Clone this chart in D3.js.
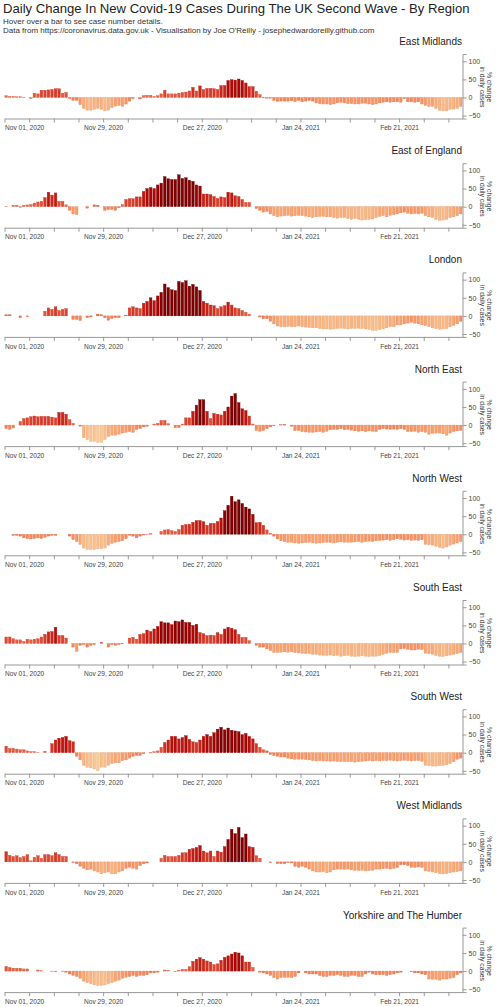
<!DOCTYPE html>
<html>
<head>
<meta charset="utf-8">
<script src="https://cdn.jsdelivr.net/npm/d3@7"></script>
<style>
  body { margin: 0; background: #fff; font-family: "Liberation Sans", Arial, Helvetica, sans-serif; }
  .axis path, .axis line { stroke: #999; }
  .axis text { fill: #444; }
</style>
</head>
<body>
<svg id="chart"></svg>
<script>
// daily % change in new cases, one value per day from Nov 01, 2020
const startDay = '2020-11-01';
const regions = ['East Midlands', 'East of England', 'London', 'North East', 'North West',
  'South East', 'South West', 'West Midlands', 'Yorkshire and The Humber'];

const eastMidlands = [5, 3, 3, 2, 2, 1, 0, -3, 12, 10, 20, 20, 21, 22, 24, 24, 12, 14, -3, -8, -8,
  -20, -30, -35, -35, -33, -30, -33, -37, -35, -28, -24, -22, -25, -18, -10, -3, 0, -4, 5, 6, 6,
  3, 5, 10, 20, 10, 10, 10, 12, 14, 15, 18, 28, 18, 32, 22, 25, 25, 24, 22, 33, 33,
  47, 49, 48, 51, 47, 40, 30, 30, 17, 8, -1, -2, -2, -8, -11, -10, -10, -10, -9, -11, -8,
  -12, -10, -8, -10, -15, -17, -18, -18, -20, -18, -15, -13, -15, -17, -17, -18, -18, -16, -16, -18, -20,
  -18, -15, -13, -12, -13, -12, -12, -13, -3, -12, -12, -13, -12, -18, -22, -25, -25, -30, -35, -37, -37,
  -33, -32, -30, -25];
const eastOfEngland = [1, 0, 4, 4, -2, 4, 5, 6, 10, 13, 15, 25, 40, 32, 38, 15, 15, 5, -10, -20, -22,
  0, 0, -4, 0, 5, 4, 0, -10, -8, -8, -10, -3, 6, 20, 22, 22, 27, 27, 42, 50, 53,
  50, 60, 65, 83, 77, 75, 75, 88, 78, 80, 73, 70, 60, 57, 35, 35, 33, 28, 23, 27, 25,
  40, 38, 30, 28, 20, 12, 12, 0, -5, -10, -15, -13, -20, -25, -28, -26, -25, -24, -26, -25, -24,
  -25, -26, -28, -30, -28, -27, -27, -28, -28, -30, -32, -30, -30, -33, -35, -33, -35, -37, -36, -35, -34,
  -30, -27, -25, -28, -24, -22, -20, -17, -15, -18, -20, -19, -20, -18, -25, -28, -30, -35, -38, -37, -35,
  -30, -28, -25, -20];
const london = [3, 3, 0, 0, -5, 0, -2, 0, 0, 0, 0, 13, 22, 18, 25, 15, 18, 20, 0, -10, -10,
  -13, 0, -5, -3, 0, 5, 3, -5, -12, -7, -5, -5, 0, 2, 22, 25, 22, 20, 35, 40, 50,
  42, 55, 65, 88, 78, 72, 70, 95, 92, 97, 82, 87, 80, 70, 40, 35, 30, 28, 20, 25, 28,
  38, 30, 22, 20, 15, 10, 5, 0, 0, -3, -8, -8, -15, -22, -28, -30, -30, -29, -30, -30, -28,
  -30, -31, -32, -33, -33, -35, -36, -36, -37, -36, -35, -34, -35, -36, -35, -35, -34, -35, -36, -38, -40,
  -40, -38, -36, -33, -30, -30, -25, -25, -22, -20, -18, -20, -22, -25, -27, -30, -33, -35, -37, -36, -35,
  -30, -26, -22, -15];
const northEast = [-10, -12, -8, 0, 10, 18, 20, 23, 25, 23, 24, 24, 24, 22, 20, 35, 35, 30, 15, 5, 0,
  -3, -35, -40, -45, -45, -48, -48, -40, -32, -28, -28, -25, -22, -20, -18, -20, -12, -10, -5, -3, 0,
  3, 5, 13, 13, 4, 0, -7, -7, 3, 20, 20, 38, 55, 70, 70, 38, 18, 32, 30, 28, 38,
  50, 80, 87, 62, 45, 40, 25, 3, -15, -17, -15, -10, -5, -2, 0, 1, 2, 0, -3, -15, -15,
  -18, -19, -20, -20, -19, -18, -20, -17, -13, -12, -12, -10, -13, -12, -14, -16, -17, -16, -18, -16, -17,
  -18, -12, -10, -11, -12, -11, -12, -10, -12, -18, -18, -17, -20, -18, -20, -25, -23, -22, -22, -24, -28,
  -22, -18, -16, -15];
const northWest = [0, 0, -3, -3, -5, -10, -12, -13, -12, -10, -12, -8, -5, -3, -3, 0, 0, 0, -5, -15, -20,
  -28, -38, -42, -42, -42, -40, -40, -38, -30, -25, -22, -20, -18, -12, -3, -5, -10, -5, -2, -1, 2,
  0, 0, 8, 12, 13, 10, 8, 13, 25, 27, 28, 33, 38, 38, 35, 25, 30, 30, 35, 45, 65,
  80, 105, 90, 95, 85, 75, 70, 55, 32, 33, 25, 12, 3, -5, -13, -18, -20, -22, -22, -24, -25,
  -24, -23, -22, -24, -25, -24, -23, -22, -23, -24, -22, -21, -22, -22, -22, -21, -20, -22, -20, -19, -20,
  -18, -17, -16, -15, -17, -15, -12, -14, -16, -15, -17, -16, -17, -15, -28, -29, -30, -33, -36, -38, -35,
  -30, -27, -24, -20];
const southEast = [18, 18, 13, 10, 10, 6, 12, 10, 12, 13, 18, 25, 32, 33, 45, 22, 22, 15, 0, -10, -22,
  -5, -3, -10, -5, -3, 0, 4, 0, -10, -3, -5, -3, -1, 0, 15, 17, 12, 25, 27, 37, 33,
  40, 47, 60, 57, 57, 52, 62, 60, 65, 58, 58, 50, 53, 30, 27, 22, 23, 22, 30, 25, 40,
  45, 42, 38, 25, 17, 17, 8, 0, -5, -10, -10, -15, -20, -25, -25, -24, -23, -24, -23, -25, -26,
  -27, -28, -28, -30, -30, -32, -33, -33, -32, -34, -33, -35, -34, -33, -35, -36, -35, -34, -35, -36, -35,
  -35, -33, -30, -27, -25, -25, -25, -15, -14, -16, -18, -18, -16, -17, -27, -28, -30, -33, -35, -36, -34,
  -32, -30, -28, -25];
const southWest = [18, 12, 12, 10, 8, 8, 5, 3, 3, 1, 0, 4, 0, 25, 35, 40, 42, 45, 33, 30, -10,
  -20, -35, -40, -42, -45, -50, -40, -40, -35, -30, -28, -28, -22, -20, -15, -10, -8, -8, -3, 0, -1,
  3, 5, 15, 28, 35, 45, 45, 38, 42, 47, 37, 30, 28, 35, 45, 50, 45, 55, 65, 70, 63,
  68, 62, 60, 58, 50, 53, 45, 38, 25, 15, 8, 5, -5, -8, -10, -12, -12, -15, -17, -18, -18,
  -18, -19, -20, -22, -23, -22, -23, -23, -24, -23, -24, -25, -25, -25, -25, -26, -25, -24, -23, -22, -23,
  -22, -23, -22, -22, -21, -22, -23, -22, -21, -22, -23, -22, -22, -24, -35, -36, -37, -37, -36, -35, -33,
  -30, -25, -18, -15];
const westMidlands = [28, 18, 15, 17, 12, 15, 20, 3, 13, 17, 10, 20, 20, 17, 25, 20, 15, 15, 0, -2, -5,
  -12, -18, -22, -20, -25, -28, -33, -30, -28, -33, -33, -28, -25, -18, -15, -18, -20, -10, -5, -3, 0,
  0, 0, 10, 18, 15, 15, 15, 18, 25, 25, 35, 37, 40, 45, 30, 25, 30, 15, 30, 27, 42,
  62, 90, 78, 95, 67, 77, 42, 40, 17, 10, 0, 0, -2, 0, -5, -5, -5, -2, -3, -12, -15,
  -12, -15, -20, -25, -28, -28, -27, -30, -28, -22, -20, -20, -21, -20, -22, -24, -24, -23, -25, -24, -23,
  -20, -20, -19, -18, -20, -18, -16, -8, -8, -10, -15, -15, -14, -15, -25, -26, -28, -30, -32, -33, -32,
  -30, -28, -27, -25];
const yorkshire = [13, 10, 8, 8, 8, 6, 6, 0, 0, 3, 1, 0, 0, -1, -2, 0, -1, -3, -8, -12, -15,
  -20, -28, -32, -35, -38, -40, -40, -38, -35, -32, -28, -25, -20, -17, -15, -12, -15, -12, -12, -10, -5,
  -5, -3, 0, 3, 2, 0, -2, 2, 5, 5, 12, 27, 33, 37, 33, 28, 25, 18, 20, 30, 38,
  42, 47, 52, 50, 42, 25, 25, 10, 0, -3, -5, -8, -12, -18, -22, -18, -17, -17, -18, -15, -5,
  0, -5, -8, -8, -8, -12, -15, -15, -12, -12, -10, -12, -15, -15, -12, -12, -15, -15, -8, -3, -8,
  -10, -10, -10, -12, -10, -8, -5, -3, 0, 0, -2, -5, -5, -8, -10, -22, -23, -23, -25, -22, -22,
  -20, -18, -10, -5];

const series = [eastMidlands, eastOfEngland, london, northEast, northWest,
  southEast, southWest, westMidlands, yorkshire];
const yTicks = [-50, 0, 50, 100];

const width = 500;
const height = 1007;
const panelStep = 109.2;

const svg = d3.select('#chart')
  .attr('width', width)
  .attr('height', height)
  .style('display', 'block');

// header
svg.append('text')
  .attr('x', 3).attr('y', 13)
  .style('font-size', '13.1px').style('fill', '#222')
  .text('Daily Change In New Covid-19 Cases During The UK Second Wave - By Region');
svg.append('text')
  .attr('x', 3).attr('y', 23.5)
  .style('font-size', '8px').style('fill', '#333')
  .text('Hover over a bar to see case number details.');
svg.append('text')
  .attr('x', 3).attr('y', 32.5)
  .style('font-size', '8px').style('fill', '#333')
  .text('Data from https://coronavirus.data.gov.uk - Visualisation by Joe O\'Reilly - josephedwardoreilly.github.com');

const start = d3.timeParse('%Y-%m-%d')(startDay);
const end = d3.timeDay.offset(start, 130);

const x = d3.scaleTime()
  .domain([start, end])
  .range([4.5, 462.5]);

const y = d3.scaleLinear()
  .domain([-58, 120])
  .range([118.5, 54]);

const colour = d3.scaleSequential(d3.interpolateOrRd)
  .domain([-100, 70])
  .clamp(true);

const formatTick = d3.timeFormat('%b %d, %Y');
const dayWidth = x(d3.timeDay.offset(start, 1)) - x(start);

regions.forEach((name, i) => {
  const values = series[i];
  const data = values.map((v, k) => ({date: d3.timeDay.offset(start, k), value: v}));

  const g = svg.append('g')
    .attr('transform', `translate(0, ${panelStep * i})`);

  g.append('text')
    .attr('x', 462).attr('y', 45)
    .attr('text-anchor', 'end')
    .style('font-size', '10px').style('fill', '#222')
    .text(name);

  // bars
  g.append('g')
    .selectAll('rect')
    .data(data)
    .join('rect')
    .attr('x', d => x(d.date) + 0.4)
    .attr('width', dayWidth - 0.9)
    .attr('y', d => y(Math.max(0, d.value)))
    .attr('height', d => Math.abs(y(d.value) - y(0)))
    .attr('fill', d => colour(d.value))
    .attr('stroke', d => d3.color(colour(d.value)).darker(0.4))
    .attr('stroke-width', 0.35);

  // x axis, weekly ticks with a label every four weeks
  const xAxis = d3.axisBottom(x)
    .ticks(d3.timeWeek.every(1))
    .tickSize(4)
    .tickSizeOuter(0)
    .tickFormat((d, k) => k % 4 === 0 ? formatTick(d) : '');

  const axisX = g.append('g')
    .attr('class', 'x axis')
    .attr('transform', `translate(0, ${y.range()[0]})`)
    .call(xAxis);
  axisX.selectAll('text').style('font-size', '6.6px');
  axisX.select('.tick text').attr('text-anchor', 'start');

  const yAxis = d3.axisRight(y)
    .tickValues(yTicks)
    .tickSize(4)
    .tickSizeOuter(4);

  const axisY = g.append('g')
    .attr('class', 'y axis')
    .attr('transform', 'translate(462.5, 0)')
    .call(yAxis);
  axisY.selectAll('text').style('font-size', '7px').attr('x', 6);

  const label = g.append('text')
    .attr('transform', 'translate(486.5, 87) rotate(90)')
    .attr('text-anchor', 'middle')
    .style('font-size', '6.8px').style('fill', '#333');
  label.append('tspan').attr('x', 0).attr('dy', 0).text('% change');
  label.append('tspan').attr('x', 0).attr('dy', '1em').text('in daily cases');
});
</script>
</body>
</html>
